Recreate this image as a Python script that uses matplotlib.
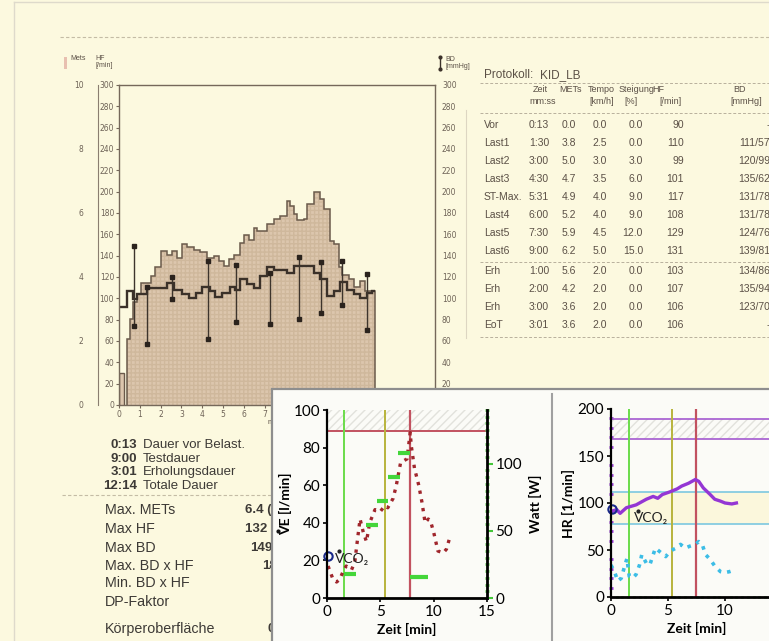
import numpy as np
import matplotlib.pyplot as plt
from matplotlib.patches import Rectangle
from matplotlib.lines import Line2D

W, H = 769, 641
def fx(x): return x / W
def fy(y): return 1 - y / H

# ---- main report chart (minutes, HF units 0..300) ----
pre_edges = [0.0, 0.25]
pre_vals = [30]
mets_edges = [0.37, 0.53, 0.69, 0.88, 1.07, 1.52, 1.71, 2.0, 2.32, 2.56, 2.8, 3.04, 3.28, 3.6,
              3.92, 4.24, 4.56, 4.8, 5.04, 5.28, 5.52, 5.84, 6.0, 6.24, 6.48, 6.64, 7.12, 7.44,
              7.76, 8.08, 8.24, 8.4, 8.56, 8.88, 9.04, 9.36, 9.68, 9.84, 10.16, 10.32, 10.56,
              10.72, 11.04, 11.28, 11.6, 11.84, 12.32]
mets_vals = [62, 81, 97, 104, 114, 121, 129, 144, 141, 144, 138, 151, 148, 145, 143, 138, 140,
             135, 130, 137, 141, 152, 159, 155, 166, 163, 170, 174, 177, 191, 187, 179, 173, 174,
             188, 200, 193, 184, 154, 151, 129, 122, 118, 111, 116, 107]
hf_edges = [0.0, 0.4, 0.69, 0.88, 1.36, 1.84, 2.32, 2.64, 3.04, 3.36, 3.68, 4.0, 4.4, 4.64, 4.96,
            5.36, 5.6, 5.84, 6.16, 6.48, 6.8, 7.12, 7.44, 8.08, 8.4, 9.36, 9.68, 10.0, 10.32,
            10.64, 10.96, 11.28, 11.6, 11.92, 12.16, 12.32]
hf_vals = [92, 107, 99, 104, 110, 110, 114, 108, 104, 100, 105, 111, 107, 101, 105, 111, 108, 118,
           113, 110, 121, 129, 127, 124, 130, 124, 118, 102, 107, 115, 108, 104, 100, 105, 107]
bd_t = [0.72, 1.36, 2.56, 4.29, 5.65, 7.25, 8.67, 9.71, 10.75, 11.92]
bd_sys = [149, 111, 120, 135, 131, 124, 139, 134, 135, 123]
bd_dia = [74, 57, 99, 62, 78, 76, 81, 86, 94, 70]

# ---- protocol table ----
proto_phase = ['Vor', 'Last1', 'Last2', 'Last3', 'ST-Max.', 'Last4', 'Last5', 'Last6',
               'Erh', 'Erh', 'Erh', 'EoT']
proto_zeit = ['0:13', '1:30', '3:00', '4:30', '5:31', '6:00', '7:30', '9:00',
              '1:00', '2:00', '3:00', '3:01']
proto_mets = [0.0, 3.8, 5.0, 4.7, 4.9, 5.2, 5.9, 6.2, 5.6, 4.2, 3.6, 3.6]
proto_tempo = [0.0, 2.5, 3.0, 3.5, 4.0, 4.0, 4.5, 5.0, 2.0, 2.0, 2.0, 2.0]
proto_steig = [0.0, 0.0, 3.0, 6.0, 9.0, 9.0, 12.0, 15.0, 0.0, 0.0, 0.0, 0.0]
proto_hf = [90, 110, 99, 101, 117, 108, 129, 131, 103, 107, 106, 106]
proto_bd = ['-', '111/57', '120/99', '135/62', '131/78', '131/78', '124/76', '139/81',
            '134/86', '135/94', '123/70', '-']

dur_vals = ['0:13', '9:00', '3:01', '12:14']
dur_labels = ['Dauer vor Belast.', 'Testdauer', 'Erholungsdauer', 'Totale Dauer']
sum_labels = ['Max. METs', 'Max HF', 'Max BD', 'Max. BD x HF', 'Min. BD x HF', 'DP-Faktor',
              'Körperoberfläche']
sum_vals = ['6.4 (1', '132 (', '149', '18', '', '', '0']

# ---- spiroergometry inset ----
ve_t = [0.1, 0.3, 0.56, 0.9, 1.2, 1.5, 1.8, 2.3, 2.6, 2.9, 3.1, 3.4, 3.7, 4.0, 4.5, 5.0, 5.4,
        5.7, 6.2, 6.5, 6.9, 7.2, 7.5, 7.8, 7.9, 8.2, 8.6, 8.9, 9.2, 9.5, 9.7, 10.0, 10.4, 10.9,
        11.2, 11.5]
ve_val = [17, 14, 10, 8.5, 10, 14, 17, 15, 19, 33, 42, 35, 30, 40, 47, 46, 49, 48, 53, 60, 72,
          73, 74, 88, 81, 69, 60, 51, 40, 42, 41, 35, 25, 24, 26, 32]
watt_start = [1.57, 3.7, 4.7, 5.7, 6.7, 7.8]
watt_end = [2.76, 4.8, 5.7, 6.8, 7.8, 9.5]
watt_val = [18, 54, 72, 90, 108, 16]

hr_t = [0, 0.5, 0.8, 1.35, 2.2, 3.1, 3.7, 4.1, 4.5, 5.2, 5.8, 6.2, 6.8, 7.4, 7.7, 8.1, 8.7,
        9.1, 9.6, 10.0, 10.6, 11.0]
hr_val = [91, 93, 89, 95, 98, 104, 107, 105, 109, 112, 115, 118, 121, 125, 123, 116, 109, 104,
          102, 100, 99, 100]
vo_t = [0, 0.3, 0.6, 0.9, 1.2, 1.4, 1.6, 1.9, 2.2, 2.5, 2.7, 3.1, 3.4, 3.7, 3.9, 4.4, 4.8, 5.2,
        5.7, 6.1, 6.5, 6.9, 7.4, 7.7, 8.0, 8.3, 8.7, 9.1, 9.6, 10.0, 10.4, 10.9]
vo_val = [34, 27, 17, 20, 33, 41, 22, 20, 24, 34, 45, 36, 34, 45, 52, 47, 43, 49, 52, 56, 52,
          54, 56, 59, 56, 45, 40, 33, 27, 26, 27, 29]

RF = ['Liberation Sans', 'DejaVu Sans']
IF = ['Lato', 'DejaVu Sans']
ink = '#5b5046'

fig = plt.figure(figsize=(7.69, 6.41), dpi=100)
fig.patch.set_facecolor('#fcf9df')

def T(x, y, s, **kw):
    kw.setdefault('family', RF)
    kw.setdefault('color', ink)
    kw.setdefault('va', 'center')
    return fig.text(fx(x), fy(y), s, **kw)

def hline(x0, x1, y, **kw):
    fig.add_artist(Line2D([fx(x0), fx(x1)], [fy(y), fy(y)], **kw))

# page edge and top dashed rule
fig.add_artist(Line2D([fx(14), fx(14)], [0, fy(2)], color='#dedacb', lw=1))
hline(14, 769, 2, color='#dedacb', lw=1)
hline(60, 769, 37, color='#c4bca5', lw=0.8, ls=(0, (3, 2)))

# ---------------- main chart ----------------
ax = fig.add_axes([fx(119), fy(405), (435 - 119) / W, (405 - 85) / H])
ax.set_facecolor('none')
ax.stairs(mets_vals, mets_edges, fill=True, facecolor='#dcc6ad', edgecolor='#cfb89c',
          hatch='++++', lw=0)
ax.stairs(mets_vals, mets_edges, color='#6a5a4b', lw=1.1)
ax.stairs(pre_vals, pre_edges, fill=True, facecolor='#dcc6ad', edgecolor='#6a5a4b', lw=1)
ax.stairs(hf_vals, hf_edges, baseline=None, color='#3b3129', lw=1.7)
ax.vlines(bd_t, bd_dia, bd_sys, color='#3d342c', lw=1)
ax.plot(bd_t, bd_sys, 's', ms=3.2, color='#2b231d')
ax.plot(bd_t, bd_dia, 's', ms=3.2, color='#2b231d')
ax.set_xlim(0, 15.2)
ax.set_ylim(0, 300)
ax.set_xticks(range(0, 16))
ax.set_yticks(range(0, 301, 20))
for s in ax.spines.values():
    s.set_color('#75685a')
    s.set_linewidth(1)
ax.tick_params(colors='#75685a', labelcolor='#6e6357', labelsize=5.5, length=2, pad=1.5)

axb = ax.twinx()
axb.set_ylim(0, 300)
axb.set_yticks(range(0, 301, 20))
axb.spines[:].set_visible(False)
axb.tick_params(length=0, pad=5, labelsize=5.5, labelcolor='#6e6357')

sec = ax.secondary_yaxis(-0.068, functions=(lambda v: v / 30, lambda m: m * 30))
sec.set_yticks([0, 2, 4, 6, 8, 10])
sec.spines['left'].set_color('#8a7e70')
sec.tick_params(length=0, pad=10, labelsize=5.5, labelcolor='#6e6357')

fig.add_artist(Rectangle((fx(64), fy(69)), 3 / W, 12 / H, transform=fig.transFigure,
                         facecolor='#e8c0b0', lw=0))
T(70, 59, 'Mets', fontsize=5, va='center')
T(95, 62, 'HF\n[/min]', fontsize=5, linespacing=0.9)
fig.add_artist(Line2D([fx(440), fx(440)], [fy(69), fy(57)], color='#3b3129', lw=1,
                      marker='o', ms=2))
T(445, 63, 'BD\n[mmHg]', fontsize=5, linespacing=0.9)
T(268, 422, 'min', fontsize=5.5)

# ---------------- protocol table ----------------
T(484, 75, 'Protokoll:', fontsize=8.5)
T(540, 75, 'KID_LB', fontsize=8.5)
hline(480, 769, 83, color='#b8b09c', lw=0.7, ls=(0, (3, 2)))
T(533, 90, 'Zeit', fontsize=6.5)
T(529, 102, 'mm:ss', fontsize=6.5)
T(559, 90, 'METs', fontsize=6.5)
T(588, 90, 'Tempo', fontsize=6.5)
T(589, 102, '[km/h]', fontsize=6.5)
T(619, 90, 'Steigung', fontsize=6.5)
T(624, 102, '[%]', fontsize=6.5)
T(652, 90, 'HF', fontsize=6.5)
T(659, 102, '[/min]', fontsize=6.5)
T(733, 90, 'BD', fontsize=6.5)
T(730, 102, '[mmHg]', fontsize=6.5)
hline(480, 769, 113, color='#b8b09c', lw=0.7, ls=(0, (3, 2)))
for i, ph in enumerate(proto_phase):
    y = 125 + 18 * i if i < 8 else 271 + 18 * (i - 8)
    T(484, y, ph, fontsize=7.5)
    T(549, y, proto_zeit[i], fontsize=7.5, ha='right')
    T(576, y, f'{proto_mets[i]:.1f}', fontsize=7.5, ha='right')
    T(607, y, f'{proto_tempo[i]:.1f}', fontsize=7.5, ha='right')
    T(643, y, f'{proto_steig[i]:.1f}', fontsize=7.5, ha='right')
    T(684, y, str(proto_hf[i]), fontsize=7.5, ha='right')
    T(770, y, proto_bd[i], fontsize=7.5, ha='right')
hline(480, 769, 262, color='#b8b09c', lw=0.7, ls=(0, (3, 2)))
hline(480, 769, 337, color='#b8b09c', lw=0.7, ls=(0, (3, 2)))
fig.add_artist(Line2D([fx(466), fx(466)], [fy(110), fy(338)], color='#ddd6c2', lw=0.8))

# ---------------- summary text ----------------
for i, (v, lab) in enumerate(zip(dur_vals, dur_labels)):
    y = 445 + 13.7 * i
    T(137, y, v, fontsize=9.5, ha='right', weight='bold', color='#3d3a36')
    T(143, y, lab, fontsize=9.5, color='#3d3a36')
hline(62, 272, 495, color='#c4bca5', lw=0.8, ls=(0, (3, 2)))
sum_y = [510, 529, 548, 566, 583, 602, 629]
sum_x = [245, 245, 250, 262, 0, 0, 268]
for lab, v, y, x in zip(sum_labels, sum_vals, sum_y, sum_x):
    T(105, y, lab, fontsize=10.3, color='#3d3a36')
    if v:
        T(x, y, v, fontsize=9.5, weight='bold', color='#3d3a36')

# ---------------- inset panel ----------------
fig.add_artist(Rectangle((fx(272), -0.01), 1 - fx(272) + 0.02, fy(389) + 0.01,
                         transform=fig.transFigure, facecolor='#fbfbf7',
                         edgecolor='#8e8e8e', lw=1.6, zorder=5))
fig.add_artist(Line2D([fx(552), fx(552)], [0, fy(394)], color='#a0a0a0', lw=1.5, zorder=6))

a1 = fig.add_axes([fx(327), fy(598), 160 / W, 188 / H], zorder=7)
a1.set_facecolor('none')
a1.axhspan(89, 100, facecolor='none', edgecolor='#e2e2dc', hatch='////', lw=0)
a1.axhline(89, color='#c25260', lw=1.4)
a1.axvline(1.57, color='#6bdc4a', lw=1.4)
a1.axvline(5.45, color='#b8b43c', lw=1.4)
a1.axvline(7.8, color='#c25260', lw=1.6)
a1.plot(ve_t, ve_val, ls=':', lw=2.4, color='#a0262c')
a1.plot([0.05], [22.5], marker='o', ms=6, mfc='none', mec='#1a2a8a', mew=1.5, clip_on=False)
v1 = a1.text(0.7, 21, 'VCO\u2082', fontsize=10, family=IF, color='#222', va='center')
a1.set_xlim(0, 15)
a1.set_ylim(0, 100)
a1.set_xticks([0, 5, 10, 15])
a1.set_yticks(range(0, 101, 20))
a1.spines['top'].set_visible(False)
a1.spines['right'].set_visible(False)
a1.spines['left'].set_linewidth(1.6)
a1.spines['bottom'].set_linewidth(2)
a1.tick_params(labelsize=11, length=3, width=1.2, pad=2)
for t in a1.get_xticklabels() + a1.get_yticklabels():
    t.set_family(IF)
a1.set_xlabel('Zeit [min]', fontsize=10, family=IF, weight='bold', labelpad=3)
a1.set_ylabel('VE [l/min]', fontsize=10, family=IF, weight='bold', labelpad=1)

aw = a1.twinx()
aw.set_zorder(8)
aw.hlines(watt_val, watt_start, watt_end, color='#44d63a', lw=3)
aw.set_ylim(0, 140)
aw.set_yticks([0, 50, 100])
aw.set_yticks(np.arange(0, 141, 5), minor=True)
aw.spines[['top', 'left', 'bottom']].set_visible(False)
aw.spines['right'].set_linewidth(2)
aw.tick_params(which='major', labelsize=11, length=4, width=1.5, color='#44c63a', pad=2)
aw.tick_params(which='minor', length=2.5, width=2, color='#5cd050', direction='inout')
for t in aw.get_yticklabels():
    t.set_family(IF)
aw.set_ylabel('Watt [W]', fontsize=10, family=IF, weight='bold', labelpad=5)

a2 = fig.add_axes([fx(611), fy(597), 171 / W, 188 / H], zorder=7)
a2.set_facecolor('none')
a2.axhspan(168, 189, facecolor='none', edgecolor='#e2e2dc', hatch='////', lw=0)
a2.axhspan(78, 112, facecolor='#fbf7dc', lw=0)
for yy in (168, 189):
    a2.axhline(yy, color='#a45ad0', lw=1.2)
for yy in (78, 112):
    a2.axhline(yy, color='#7cc8e0', lw=1.2)
a2.axvline(1.55, color='#6bdc4a', lw=1.4)
a2.axvline(5.35, color='#b8b43c', lw=1.4)
a2.axvline(7.45, color='#c25260', lw=1.6)
a2.plot(hr_t, hr_val, lw=2.4, color='#9436d4')
a2.plot(vo_t, vo_val, ls=':', lw=2.6, color='#3cbde6')
a2.plot([0.05], [94], marker='o', ms=6, mfc='none', mec='#1a2a8a', mew=1.5, clip_on=False)
v2 = a2.text(2.0, 84, 'VCO\u2082', fontsize=10, family=IF, color='#222', va='center')
a2.set_xlim(0, 15)
a2.set_ylim(0, 200)
a2.set_xticks([0, 5, 10])
a2.set_yticks(range(0, 201, 50))
a2.set_yticks(range(0, 201, 10), minor=True)
a2.set_xticks(np.arange(0, 15.1, 0.5), minor=True)
a2.spines[['top', 'right']].set_visible(False)
a2.spines['left'].set_linewidth(1.6)
a2.spines['bottom'].set_linewidth(2)
a2.tick_params(labelsize=11, length=3, width=1.2, pad=2)
a2.tick_params(axis='y', which='minor', length=2.5, width=2, color='#9436d4', direction='inout')
a2.tick_params(axis='x', which='minor', length=2, width=2, color='#5cd050', direction='inout')
for t in a2.get_xticklabels() + a2.get_yticklabels():
    t.set_family(IF)
a2.set_xlabel('Zeit [min]', fontsize=10, family=IF, weight='bold', labelpad=3)
a2.set_ylabel('HR [1/min]', fontsize=10, family=IF, weight='bold', labelpad=2)

# dot accent over the "V" (V-dot notation), placed from the rendered text boxes
fig.canvas.draw()
rend = fig.canvas.get_renderer()
for t in (v1, v2):
    bb = t.get_window_extent(rend)
    fig.add_artist(Line2D([(bb.x0 + 4.5) / W], [(bb.y1 + 1.5) / H], marker='o', ms=2,
                          color='#222', lw=0, zorder=9))
bb = a1.yaxis.label.get_window_extent(rend)
fig.add_artist(Line2D([(bb.x0 - 1.5) / W], [(bb.y0 + 4.5) / H], marker='o', ms=2,
                      color='#111', lw=0, zorder=9))

fig.savefig('out.png', dpi=100, facecolor=fig.get_facecolor())
